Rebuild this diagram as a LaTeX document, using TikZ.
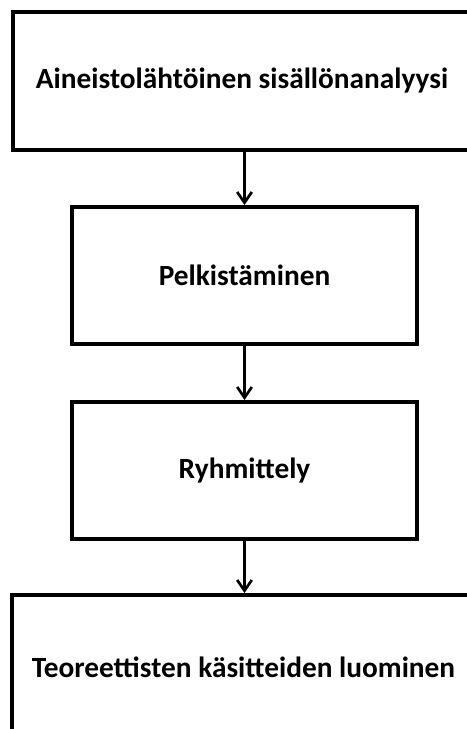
\documentclass[tikz,border=0pt]{standalone}
\usepackage{fontspec}
\setmainfont{Carlito}
\usetikzlibrary{arrows.meta}

\tikzset{
  phase/.style={draw, line width=3pt, align=center, font=\fontsize{22}{26}\selectfont\bfseries},
  flow/.style={-{Straight Barb[length=8pt,width=11pt]}, line width=2pt}
}

\begin{document}
\begin{tikzpicture}[x=0.75pt,y=-0.75pt]
  \useasboundingbox (0,0) rectangle (467,729);
  \clip (0,0) rectangle (467,729);
  \node[phase, minimum width=343.5pt, minimum height=103.5pt] (aineisto) at (242,81) {Aineistolähtöinen sisällönanalyysi};
  \node[phase, minimum width=258.75pt, minimum height=102.75pt] (pelkist) at (244.5,275.5) {Pelkistäminen};
  \node[phase, minimum width=258.75pt, minimum height=102.75pt] (ryhmit) at (244.5,470.5) {Ryhmittely};
  \node[phase, minimum width=347.25pt, minimum height=108pt] (teoria) at (243.5,667) {Teoreettisten käsitteiden luominen};
  % arrows between the phases
  \draw[flow] (aineisto.south -| pelkist.north) -- (pelkist.north);
  \draw[flow] (pelkist) -- (ryhmit);
  \draw[flow] (ryhmit.south) -- (ryhmit.south |- teoria.north);
\end{tikzpicture}
\end{document}
